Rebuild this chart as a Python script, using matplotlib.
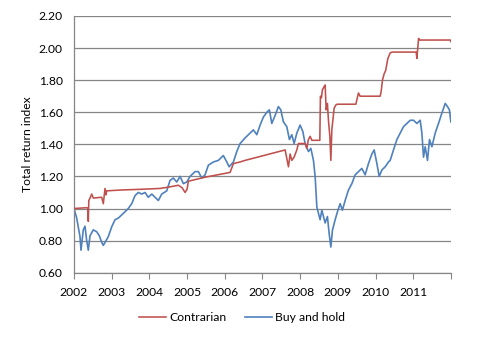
import matplotlib
matplotlib.use("Agg")
import matplotlib.pyplot as plt
from matplotlib.ticker import FormatStrFormatter

# buy and hold index (fractional year, value)
buyhold_t = [2002.000, 2002.072, 2002.159, 2002.186, 2002.247, 2002.292, 2002.337, 2002.380,
             2002.425, 2002.512, 2002.603, 2002.672, 2002.735, 2002.778, 2002.849, 2002.911,
             2003.001, 2003.088, 2003.176, 2003.266, 2003.354, 2003.441, 2003.532, 2003.619,
             2003.707, 2003.797, 2003.885, 2003.972, 2004.063, 2004.150, 2004.238, 2004.328,
             2004.461, 2004.548, 2004.636, 2004.726, 2004.814, 2004.902, 2004.992, 2005.079,
             2005.212, 2005.300, 2005.390, 2005.478, 2005.565, 2005.698, 2005.831, 2005.963,
             2006.054, 2006.115, 2006.229, 2006.319, 2006.407, 2006.540, 2006.672, 2006.760,
             2006.850, 2006.938, 2007.025, 2007.116, 2007.184, 2007.248, 2007.336, 2007.423,
             2007.487, 2007.556, 2007.646, 2007.715, 2007.779, 2007.840, 2007.912, 2007.999,
             2008.071, 2008.132, 2008.220, 2008.284, 2008.353, 2008.398, 2008.443, 2008.485,
             2008.530, 2008.576, 2008.618, 2008.663, 2008.724, 2008.769, 2008.815, 2008.857,
             2008.929, 2008.990, 2009.061, 2009.122, 2009.194, 2009.282, 2009.372, 2009.460,
             2009.547, 2009.637, 2009.725, 2009.813, 2009.903, 2009.964, 2010.036, 2010.097,
             2010.168, 2010.256, 2010.343, 2010.389, 2010.476, 2010.567, 2010.654, 2010.742,
             2010.832, 2010.920, 2011.007, 2011.097, 2011.185, 2011.230, 2011.273, 2011.318,
             2011.379, 2011.432, 2011.496, 2011.583, 2011.671, 2011.761, 2011.849, 2011.910,
             2011.960, 2011.999]
buyhold_v = [1.00, 0.94, 0.825, 0.74, 0.867, 0.89, 0.80, 0.74,
             0.83, 0.867, 0.855, 0.83, 0.79, 0.77, 0.80, 0.825,
             0.886, 0.93, 0.94, 0.96, 0.98, 1.00, 1.03, 1.08,
             1.10, 1.09, 1.10, 1.07, 1.09, 1.07, 1.05, 1.09,
             1.11, 1.175, 1.19, 1.165, 1.20, 1.155, 1.165, 1.20,
             1.23, 1.23, 1.19, 1.21, 1.27, 1.29, 1.30, 1.33,
             1.29, 1.26, 1.29, 1.355, 1.405, 1.44, 1.47, 1.49,
             1.46, 1.52, 1.57, 1.60, 1.615, 1.53, 1.58, 1.635,
             1.615, 1.54, 1.51, 1.43, 1.46, 1.405, 1.47, 1.52,
             1.48, 1.405, 1.355, 1.375, 1.30, 1.20, 1.01, 0.97,
             0.93, 0.99, 0.95, 0.91, 0.95, 0.845, 0.76, 0.865,
             0.93, 0.98, 1.03, 0.99, 1.05, 1.115, 1.155, 1.21,
             1.23, 1.25, 1.21, 1.28, 1.34, 1.365, 1.28, 1.20,
             1.24, 1.26, 1.29, 1.30, 1.365, 1.43, 1.47, 1.51,
             1.53, 1.55, 1.55, 1.53, 1.55, 1.47, 1.32, 1.385,
             1.30, 1.43, 1.385, 1.47, 1.53, 1.595, 1.655, 1.635,
             1.615, 1.54]

# contrarian strategy index
contr_t = [2002.000, 2002.337, 2002.372, 2002.380, 2002.393, 2002.425, 2002.470, 2002.512,
           2002.735, 2002.778, 2002.823, 2002.849, 2002.868, 2003.221, 2003.797, 2004.283,
           2004.548, 2004.769, 2004.867, 2004.947, 2005.000, 2005.034, 2005.478, 2006.141,
           2006.229, 2006.407, 2006.540, 2007.602, 2007.690, 2007.734, 2007.779, 2007.840,
           2007.912, 2007.954, 2008.132, 2008.176, 2008.220, 2008.265, 2008.310, 2008.522,
           2008.538, 2008.565, 2008.591, 2008.637, 2008.663, 2008.690, 2008.724, 2008.751,
           2008.788, 2008.815, 2008.841, 2008.868, 2008.902, 2008.947, 2008.982, 2009.478,
           2009.547, 2009.592, 2010.123, 2010.150, 2010.184, 2010.229, 2010.269, 2010.327,
           2010.389, 2010.442, 2011.079, 2011.097, 2011.142, 2011.174, 2011.985, 2011.999]
contr_v = [1.00, 1.005, 1.00, 0.92, 1.05, 1.065, 1.09, 1.065,
           1.07, 1.03, 1.125, 1.085, 1.11, 1.115, 1.12, 1.125,
           1.135, 1.145, 1.13, 1.10, 1.12, 1.17, 1.195, 1.225,
           1.28, 1.29, 1.30, 1.365, 1.26, 1.34, 1.30, 1.32,
           1.365, 1.405, 1.405, 1.375, 1.43, 1.45, 1.425, 1.425,
           1.70, 1.69, 1.74, 1.76, 1.77, 1.615, 1.655, 1.55,
           1.45, 1.30, 1.49, 1.55, 1.625, 1.645, 1.65, 1.65,
           1.72, 1.70, 1.70, 1.73, 1.80, 1.84, 1.86, 1.935,
           1.97, 1.975, 1.975, 1.935, 2.06, 2.05, 2.05, 2.04]

years = list(range(2002, 2013))
year_labels = [str(y) for y in range(2002, 2012)] + [""]

plt.rcParams["font.family"] = ["Lato", "DejaVu Sans"]
fig = plt.figure(figsize=(4.82, 3.40), dpi=100)
ax = fig.add_axes([0.1535, 0.198, 0.782, 0.755])

grid_col = "#868686"
ax.set_ylim(0.60, 2.20)
ax.set_xlim(2002, 2012)
ax.set_yticks([0.6 + 0.2 * i for i in range(9)])
ax.yaxis.set_major_formatter(FormatStrFormatter("%.2f"))
ax.set_xticks(years)
ax.set_xticklabels(year_labels)
ax.grid(axis="y", color=grid_col, linewidth=0.9)
ax.set_axisbelow(True)

for s in ["top", "right"]:
    ax.spines[s].set_visible(False)
for s in ["left", "bottom"]:
    ax.spines[s].set_color(grid_col)
    ax.spines[s].set_linewidth(0.9)
ax.tick_params(axis="y", length=0, pad=8, labelsize=8.7)
ax.tick_params(axis="x", length=4, color=grid_col, pad=6, labelsize=8.7)

l1, = ax.plot(contr_t, contr_v, color="#C0504D", linewidth=1.15, label="Contrarian", zorder=3)
l2, = ax.plot(buyhold_t, buyhold_v, color="#4F81BD", linewidth=1.2, label="Buy and hold", zorder=2)

ax.set_ylabel("Total return index", fontsize=8.7, labelpad=4)

fig.legend(handles=[l1, l2], loc="center", bbox_to_anchor=(0.502, 0.065), ncol=2,
           frameon=False, fontsize=8.7, handlelength=2.3, columnspacing=1.5, handletextpad=0.25)

fig.savefig("out.png", dpi=100)
